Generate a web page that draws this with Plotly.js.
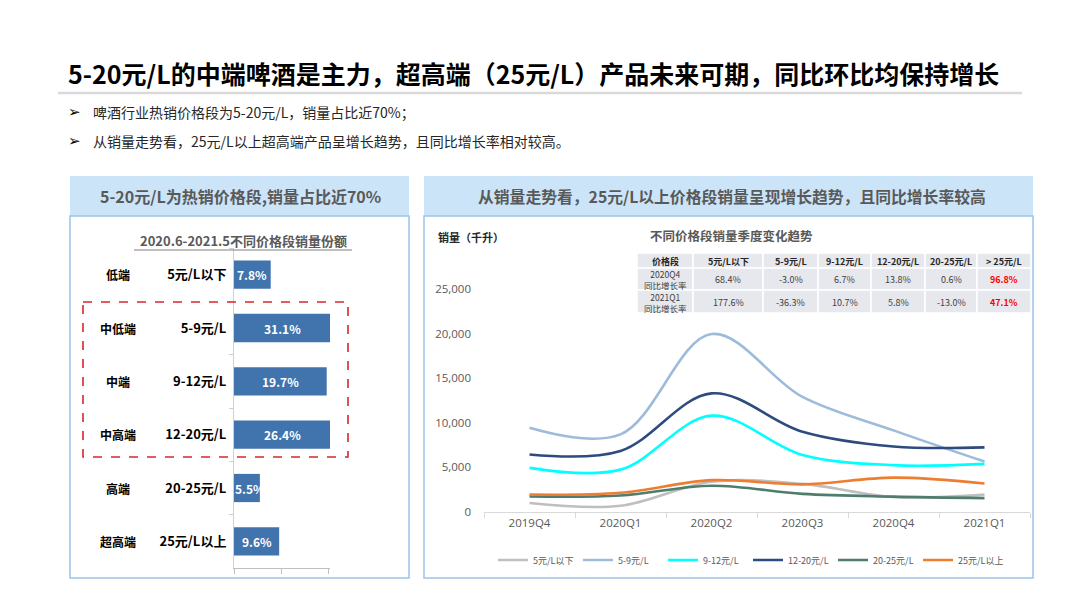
<!DOCTYPE html>
<html><head><meta charset="utf-8">
<script src="https://cdn.plot.ly/plotly-3.0.1.min.js"></script>
<style>html,body{margin:0;padding:0;background:#fff;}#chart{width:1080px;height:608px;}</style>
</head><body><div id="chart"></div>
<script>
const FONT = '"Noto Sans CJK SC", "Microsoft YaHei", sans-serif';

// ---------- Left: share by price band ----------
const shareCategories = ['5元/L以下', '5-9元/L', '9-12元/L', '12-20元/L', '20-25元/L', '25元/L以上'];
const shareTiers = ['低端', '中低端', '中端', '中高端', '高端', '超高端'];
const shareValues = [7.8, 31.1, 19.7, 26.4, 5.5, 9.6];

// ---------- Right: quarterly volume (千升) ----------
const quarters = ['2019Q4', '2020Q1', '2020Q2', '2020Q3', '2020Q4', '2021Q1'];
const seriesNames = ['5元/L以下', '5-9元/L', '9-12元/L', '12-20元/L', '20-25元/L', '25元/L以上'];
const volBelow5 = [1000, 700, 3400, 3150, 1680, 1950];
const vol5to9 = [9450, 8700, 19950, 12900, 9150, 5650];
const vol9to12 = [4950, 4750, 10800, 6400, 5250, 5400];
const vol12to20 = [6450, 6850, 13300, 9000, 7350, 7250];
const vol20to25 = [1740, 1850, 2950, 2030, 1720, 1560];
const volAbove25 = [1950, 2150, 3570, 3100, 3850, 3200];

// ---------- Table: YoY growth ----------
const tableHeader = ['价格段', '5元/L以下', '5-9元/L', '9-12元/L', '12-20元/L', '20-25元/L', '> 25元/L'];
const tableRowLabels = ['2020Q4<br>同比增长率', '2021Q1<br>同比增长率'];
const yoy2020Q4 = [68.4, -3.0, 6.7, 13.8, 0.6, 96.8];
const yoy2021Q1 = [177.6, -36.3, 10.7, 5.8, -13.0, 47.1];

// ---------- helpers (page pixel -> paper) ----------
const W = 1080, H = 608;
const px = x => x / W;
const py = y => 1 - y / H;
const fmt = v => v.toFixed(1) + '%';

const lineColors = ['#bfbfbf', '#9dbbdb', '#00ffff', '#2e4b80', '#4f7d6c', '#ed7d31'];
const lineSeries = [volBelow5, vol5to9, vol9to12, vol12to20, vol20to25, volAbove25];

const BAR_XMAX = 20.4;

const traces = [];
traces.push({
  type: 'bar', orientation: 'h',
  x: shareValues, y: shareCategories,
  xaxis: 'x', yaxis: 'y',
  marker: {color: '#4173ad', line: {width: 0}},
  hoverinfo: 'skip', showlegend: false
});

lineSeries.forEach((s, i) => {
  traces.push({
    type: 'scatter', mode: 'lines',
    x: quarters, y: s, name: seriesNames[i],
    xaxis: 'x2', yaxis: 'y2',
    line: {color: lineColors[i], width: 2.6, shape: 'spline', smoothing: 1},
    hoverinfo: 'skip'
  });
});

const shapes = [
  {type: 'line', xref: 'paper', yref: 'paper', x0: px(58), x1: px(1022), y0: py(93), y1: py(93), line: {color: '#d9d9d9', width: 2.5}},
  {type: 'rect', xref: 'paper', yref: 'paper', x0: px(70), x1: px(409), y0: py(176), y1: py(216), fillcolor: '#cce4f8', line: {width: 0}},
  {type: 'rect', xref: 'paper', yref: 'paper', x0: px(70), x1: px(409), y0: py(216), y1: py(578), line: {color: '#9dc3e6', width: 1.5}},
  {type: 'rect', xref: 'paper', yref: 'paper', x0: px(424), x1: px(1033), y0: py(176), y1: py(216), fillcolor: '#cce4f8', line: {width: 0}},
  {type: 'rect', xref: 'paper', yref: 'paper', x0: px(424), x1: px(1033), y0: py(216), y1: py(578), line: {color: '#9dc3e6', width: 1.5}},
  {type: 'line', xref: 'paper', yref: 'paper', x0: px(134), x1: px(352), y0: py(250), y1: py(250), line: {color: '#7f7f7f', width: 1}},
  {type: 'rect', xref: 'paper', yref: 'paper', x0: px(83), x1: px(348), y0: py(302), y1: py(457), line: {color: '#d9262a', width: 1.6, dash: 'dash'}}
];

const annotations = [
  {xref: 'paper', yref: 'paper', x: px(66), y: py(73), xanchor: 'left', yanchor: 'middle', showarrow: false,
   text: '<b>5-20元/L的中端啤酒是主力，超高端（25元/L）产品未来可期，同比环比均保持增长</b>',
   font: {family: FONT, size: 25, color: '#000000'}},
  {xref: 'paper', yref: 'paper', x: px(66), y: py(112), xanchor: 'left', yanchor: 'middle', showarrow: false,
   text: '➢', font: {family: 'DejaVu Sans', size: 15, color: '#000'}},
  {xref: 'paper', yref: 'paper', x: px(91), y: py(112), xanchor: 'left', yanchor: 'middle', showarrow: false,
   text: '啤酒行业热销价格段为5-20元/L，销量占比近70%；', font: {family: FONT, size: 14, color: '#262626'}},
  {xref: 'paper', yref: 'paper', x: px(66), y: py(141), xanchor: 'left', yanchor: 'middle', showarrow: false,
   text: '➢', font: {family: 'DejaVu Sans', size: 15, color: '#000'}},
  {xref: 'paper', yref: 'paper', x: px(91), y: py(141), xanchor: 'left', yanchor: 'middle', showarrow: false,
   text: '从销量走势看，25元/L以上超高端产品呈增长趋势，且同比增长率相对较高。', font: {family: FONT, size: 14, color: '#262626'}},
  {xref: 'paper', yref: 'paper', x: px(240), y: py(196), xanchor: 'center', yanchor: 'middle', showarrow: false,
   text: '<b>5-20元/L为热销价格段,销量占比近70%</b>', font: {family: FONT, size: 16, color: '#595959'}},
  {xref: 'paper', yref: 'paper', x: px(243), y: py(241), xanchor: 'center', yanchor: 'middle', showarrow: false,
   text: '<b>2020.6-2021.5不同价格段销量份额</b>', font: {family: FONT, size: 13, color: '#595959'}},
  {xref: 'paper', yref: 'paper', x: px(732), y: py(196), xanchor: 'center', yanchor: 'middle', showarrow: false,
   text: '<b>从销量走势看，25元/L以上价格段销量呈现增长趋势，且同比增长率较高</b>', font: {family: FONT, size: 15.8, color: '#595959'}},
  {xref: 'paper', yref: 'paper', x: px(436), y: py(237), xanchor: 'left', yanchor: 'middle', showarrow: false,
   text: '<b>销量（千升）</b>', font: {family: FONT, size: 11, color: '#262626'}},
  {xref: 'paper', yref: 'paper', x: px(731), y: py(235), xanchor: 'center', yanchor: 'middle', showarrow: false,
   text: '<b>不同价格段销量季度变化趋势</b>', font: {family: FONT, size: 12.5, color: '#595959'}}
];

// bar labels and tier names
shareCategories.forEach((c, i) => {
  annotations.push({xref: 'paper', yref: 'y', x: px(118), y: c, xanchor: 'center', yanchor: 'middle', showarrow: false,
    text: '<b>' + shareTiers[i] + '</b>', font: {family: FONT, size: 12, color: '#000'}});
  annotations.push({xref: 'x', yref: 'y', x: Math.max(Math.min(shareValues[i], BAR_XMAX) / 2, 3.4), y: c,
    xanchor: 'center', yanchor: 'middle', showarrow: false,
    text: '<b>' + fmt(shareValues[i]) + '</b>', font: {family: FONT, size: 12, color: '#ffffff'}});
});

// table built from cells (shapes + annotations)
const colEdges = [637, 693, 763, 818, 871, 925, 977, 1031];
const rowEdges = [253, 268, 290, 313];
const tableRows = [tableHeader, [tableRowLabels[0]].concat(yoy2020Q4.map(fmt)), [tableRowLabels[1]].concat(yoy2021Q1.map(fmt))];
tableRows.forEach((row, r) => {
  row.forEach((val, c) => {
    const x0 = colEdges[c], x1 = colEdges[c + 1], y0 = rowEdges[r], y1 = rowEdges[r + 1];
    shapes.push({type: 'rect', xref: 'paper', yref: 'paper', x0: px(x0), x1: px(x1), y0: py(y0), y1: py(y1),
      fillcolor: '#e7e8ed', line: {color: '#ffffff', width: 1.5}, layer: 'below'});
    const isHeader = r === 0;
    const isHot = !isHeader && c === row.length - 1;
    const isLabel = !isHeader && c === 0;
    annotations.push({xref: 'paper', yref: 'paper', x: px((x0 + x1) / 2), y: py((y0 + y1) / 2 + 0.5),
      xanchor: 'center', yanchor: 'middle', showarrow: false,
      text: (isHeader || isHot) ? '<b>' + val + '</b>' : val,
      font: {family: FONT, size: isLabel ? 8.5 : 9, color: isHot ? '#ff0000' : (isHeader ? '#262626' : '#404040')}});
  });
});

const layout = {
  width: W, height: H,
  margin: {l: 0, r: 0, t: 0, b: 0},
  paper_bgcolor: '#ffffff', plot_bgcolor: 'rgba(0,0,0,0)',
  font: {family: FONT},
  bargap: 0.47,
  xaxis: {domain: [px(234), px(330)], range: [0, BAR_XMAX], anchor: 'y',
    showgrid: false, zeroline: false, showline: true, linecolor: '#bfbfbf', linewidth: 1,
    ticks: 'outside', ticklen: 5, tickcolor: '#bfbfbf', tickvals: [0, 10, 20], showticklabels: false, fixedrange: true},
  yaxis: {domain: [py(568), py(248)], anchor: 'x', type: 'category', autorange: 'reversed',
    showgrid: false, zeroline: false, showline: true, linecolor: '#d0d0d0', linewidth: 1,
    ticks: 'outside', ticklen: 4, tickcolor: '#d0d0d0', tickson: 'boundaries',
    ticklabelstandoff: 4, tickfont: {family: FONT, size: 13, color: '#000', weight: 'bold'}, fixedrange: true},
  xaxis2: {domain: [px(484), px(1030)], anchor: 'y2', type: 'category', range: [-0.5, 5.5],
    showgrid: false, zeroline: false, showline: true, linecolor: '#d9d9d9', linewidth: 1,
    ticks: 'outside', ticklen: 5, tickcolor: '#d9d9d9', tickson: 'boundaries',
    tickfont: {family: '"Open Sans", sans-serif', size: 11.5, color: '#595959'}, fixedrange: true},
  yaxis2: {domain: [py(512), py(289)], anchor: 'x2', range: [0, 25000],
    tickvals: [0, 5000, 10000, 15000, 20000, 25000], tickformat: ',',
    showgrid: false, zeroline: false, showline: false, ticks: '', ticklabelstandoff: 12,
    tickfont: {family: '"Open Sans", sans-serif', size: 11.5, color: '#595959'}, fixedrange: true},
  showlegend: true,
  legend: {orientation: 'h', x: px(748), xanchor: 'center', y: py(560), yanchor: 'middle',
    font: {family: FONT, size: 9, color: '#595959'}, itemwidth: 30, entrywidth: 40, traceorder: 'normal',
    bgcolor: 'rgba(0,0,0,0)'},
  shapes: shapes,
  annotations: annotations
};

Plotly.newPlot('chart', traces, layout, {displayModeBar: false, staticPlot: true});
</script>
</body></html>
